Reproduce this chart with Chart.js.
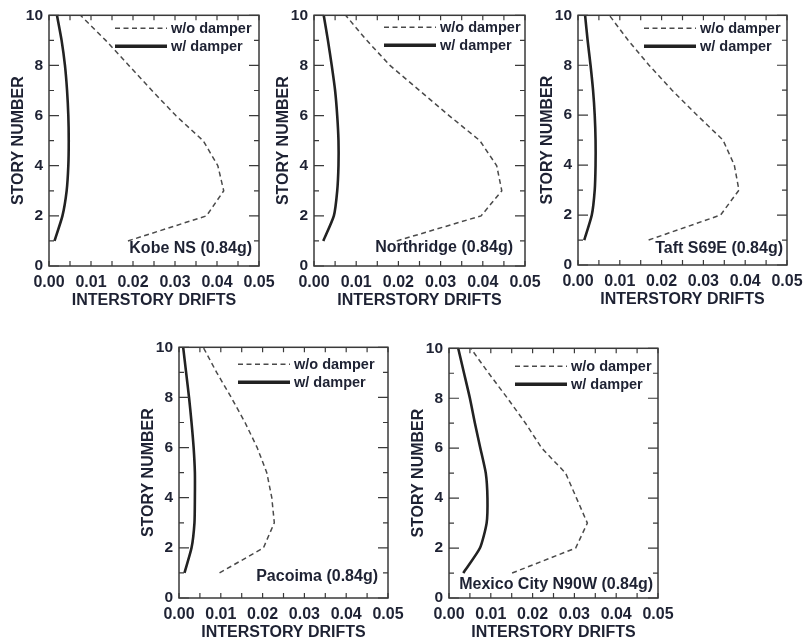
<!DOCTYPE html>
<html>
<head>
<meta charset="utf-8">
<script src="https://cdn.jsdelivr.net/npm/chart.js@4.4.1/dist/chart.umd.min.js"></script>
<style>
  html, body { margin: 0; padding: 0; background: #fff; }
  body { width: 804px; height: 643px; position: relative; overflow: hidden; }
  canvas { position: absolute; }
</style>
</head>
<body>
<canvas id="p1"></canvas>
<canvas id="p2"></canvas>
<canvas id="p3"></canvas>
<canvas id="p4"></canvas>
<canvas id="p5"></canvas>
<script>
// story levels, bottom to top
const stories = [1, 2, 3, 4, 5, 6, 7, 8, 9, 10]

// tick positions (every other one gets a label)
const driftTicks = [0, 0.005, 0.01, 0.015, 0.02, 0.025, 0.03, 0.035, 0.04, 0.045, 0.05]
const storyTicks = [0, 1, 2, 3, 4, 5, 6, 7, 8, 9, 10]

const seriesLabels = ['w/o damper', 'w/ damper']
const records = ['Kobe NS (0.84g)', 'Northridge (0.84g)', 'Taft S69E (0.84g)', 'Pacoima (0.84g)', 'Mexico City N90W (0.84g)']

// interstory drift per story, stories 1..10
const kobeWithout = [0.0188, 0.0375, 0.0416, 0.0402, 0.0367, 0.0302, 0.0245, 0.0190, 0.0135, 0.0075]
const kobeWith = [0.0013, 0.0032, 0.0042, 0.0046, 0.0047, 0.0046, 0.0043, 0.0038, 0.0030, 0.0019]

const northridgeWithout = [0.0196, 0.0396, 0.0445, 0.0433, 0.0393, 0.0320, 0.0250, 0.0180, 0.0125, 0.0075]
const northridgeWith = [0.0022, 0.0047, 0.0055, 0.0058, 0.0058, 0.0055, 0.0050, 0.0042, 0.0033, 0.0023]

const taftWithout = [0.0169, 0.0341, 0.0385, 0.0374, 0.0347, 0.0285, 0.0225, 0.0170, 0.0120, 0.0075]
const taftWith = [0.0015, 0.0033, 0.0040, 0.0042, 0.0042, 0.0040, 0.0036, 0.0030, 0.0023, 0.0017]

const pacoimaWithout = [0.0097, 0.0202, 0.0228, 0.0222, 0.0210, 0.0187, 0.0158, 0.0125, 0.0090, 0.0058]
const pacoimaWith = [0.0013, 0.0030, 0.0037, 0.0038, 0.0038, 0.0035, 0.0030, 0.0024, 0.0017, 0.0010]

const mexicoWithout = [0.0151, 0.0303, 0.0331, 0.0305, 0.0279, 0.0222, 0.0183, 0.0140, 0.0095, 0.0052]
const mexicoWith = [0.0034, 0.0074, 0.0090, 0.0092, 0.0088, 0.0075, 0.0062, 0.0050, 0.0036, 0.0022]

const FONT = '"Liberation Sans", Arial, Helvetica, sans-serif'
const TEXT = '#1e2233'
const LEFT_AXIS = 49
const BOTTOM_AXIS = 50
const TOP_PAD = 14
const RIGHT_PAD = 25

// plot rectangles on the page, plus legend / note placement inside each plot
const panels = [
  { id: 'p1', left: 49,  top: 14,  right: 259, bottom: 266, without: kobeWithout, with: kobeWith, note: records[0],
    legX: -88, legY: 13, noteX: -7, noteY: -17 },
  { id: 'p2', left: 314, top: 14,  right: 525, bottom: 266, without: northridgeWithout, with: northridgeWith, note: records[1],
    legX: -85, legY: 12, noteX: -12, noteY: -18 },
  { id: 'p3', left: 578, top: 14,  right: 787, bottom: 265, without: taftWithout, with: taftWith, note: records[2],
    legX: -87, legY: 13, noteX: -4, noteY: -16 },
  { id: 'p4', left: 179, top: 346, right: 388, bottom: 598, without: pacoimaWithout, with: pacoimaWith, note: records[3],
    legX: -94, legY: 17, noteX: -10, noteY: -21 },
  { id: 'p5', left: 449, top: 347, right: 658, bottom: 598, without: mexicoWithout, with: mexicoWith, note: records[4],
    legX: -87, legY: 18, noteX: -5, noteY: -13 }
]

// frame, inward ticks on all four sides, legend and record name
const framePlugin = {
  id: 'frame',
  afterDatasetsDraw(chart, args, opts) {
    const { ctx, chartArea: a, scales } = chart
    ctx.save()
    ctx.strokeStyle = '#3a3a3a'
    ctx.lineWidth = 1.5
    ctx.strokeRect(a.left, a.top, a.right - a.left, a.bottom - a.top)

    ctx.lineWidth = 1.2
    ctx.beginPath()
    scales.x.ticks.forEach(t => {
      const px = scales.x.getPixelForValue(t.value)
      ctx.moveTo(px, a.bottom); ctx.lineTo(px, a.bottom - 5)
      ctx.moveTo(px, a.top); ctx.lineTo(px, a.top + 5)
    })
    scales.y.ticks.forEach((t, i) => {
      const py = scales.y.getPixelForValue(t.value)
      const len = i % 2 === 0 ? 10 : 5
      ctx.moveTo(a.left, py); ctx.lineTo(a.left + len, py)
      ctx.moveTo(a.right, py); ctx.lineTo(a.right - len, py)
    })
    ctx.stroke()

    // legend
    const tx = a.right + opts.legX
    const rows = [opts.legY, opts.legY + 18]
    chart.data.datasets.forEach((ds, i) => {
      const y = a.top + rows[i]
      ctx.strokeStyle = ds.borderColor
      ctx.lineWidth = i === 0 ? 1.4 : 3.6
      ctx.setLineDash(ds.borderDash || [])
      ctx.beginPath()
      ctx.moveTo(tx - 56, y); ctx.lineTo(tx - 4, y)
      ctx.stroke()
      ctx.setLineDash([])
      ctx.fillStyle = TEXT
      ctx.font = 'bold 14.5px ' + FONT
      ctx.textAlign = 'left'
      ctx.textBaseline = 'middle'
      ctx.fillText(ds.label, tx, y + 1)
    })

    // record name
    ctx.font = 'bold 16px ' + FONT
    ctx.textAlign = 'right'
    ctx.textBaseline = 'middle'
    ctx.fillText(opts.note, a.right + opts.noteX, a.bottom + opts.noteY)
    ctx.restore()
  }
}

panels.forEach(p => {
  const canvas = document.getElementById(p.id)
  const w = p.right - p.left + LEFT_AXIS + RIGHT_PAD
  const h = p.bottom - p.top + TOP_PAD + BOTTOM_AXIS
  canvas.width = w
  canvas.height = h
  canvas.style.left = (p.left - LEFT_AXIS) + 'px'
  canvas.style.top = (p.top - TOP_PAD) + 'px'

  new Chart(canvas.getContext('2d'), {
    type: 'scatter',
    data: {
      datasets: [
        {
          label: seriesLabels[0],
          data: stories.map((s, i) => ({ x: p.without[i], y: s })),
          showLine: true,
          borderColor: '#4a4a4a',
          borderWidth: 1.5,
          borderDash: [5, 3.5],
          pointRadius: 0,
          tension: 0
        },
        {
          label: seriesLabels[1],
          data: stories.map((s, i) => ({ x: p.with[i], y: s })),
          showLine: true,
          borderColor: '#222',
          borderWidth: 2.6,
          pointRadius: 0,
          tension: 0.2
        }
      ]
    },
    options: {
      responsive: false,
      animation: false,
      events: [],
      layout: { padding: { left: 0, top: TOP_PAD, right: RIGHT_PAD, bottom: 0 } },
      plugins: {
        legend: { display: false },
        tooltip: { enabled: false },
        frame: { legX: p.legX, legY: p.legY, noteX: p.noteX, noteY: p.noteY, note: p.note }
      },
      scales: {
        x: {
          type: 'linear',
          min: 0,
          max: 0.05,
          afterBuildTicks: s => { s.ticks = driftTicks.map(v => ({ value: v })) },
          afterFit: s => { s.height = BOTTOM_AXIS },
          grid: { display: false, drawTicks: false },
          border: { display: false },
          ticks: {
            autoSkip: false,
            maxRotation: 0,
            padding: 7,
            color: TEXT,
            font: { family: FONT, size: 16, weight: 'bold' },
            callback: (v, i) => i % 2 === 0 ? v.toFixed(2) : ''
          },
          title: {
            display: true,
            text: 'INTERSTORY DRIFTS',
            color: TEXT,
            font: { family: FONT, size: 16, weight: 'bold' },
            padding: { top: 0, bottom: 6 }
          }
        },
        y: {
          type: 'linear',
          min: 0,
          max: 10,
          afterBuildTicks: s => { s.ticks = storyTicks.map(v => ({ value: v })) },
          afterFit: s => { s.width = LEFT_AXIS },
          grid: { display: false, drawTicks: false },
          border: { display: false },
          ticks: {
            autoSkip: false,
            padding: 6,
            color: TEXT,
            font: { family: FONT, size: 15.5, weight: 'bold' },
            callback: (v, i) => i % 2 === 0 ? String(v) : ''
          },
          title: {
            display: true,
            text: 'STORY NUMBER',
            color: TEXT,
            font: { family: FONT, size: 16, weight: 'bold' },
            padding: { top: 9, bottom: 0 }
          }
        }
      }
    },
    plugins: [framePlugin]
  })
})
</script>
</body>
</html>
